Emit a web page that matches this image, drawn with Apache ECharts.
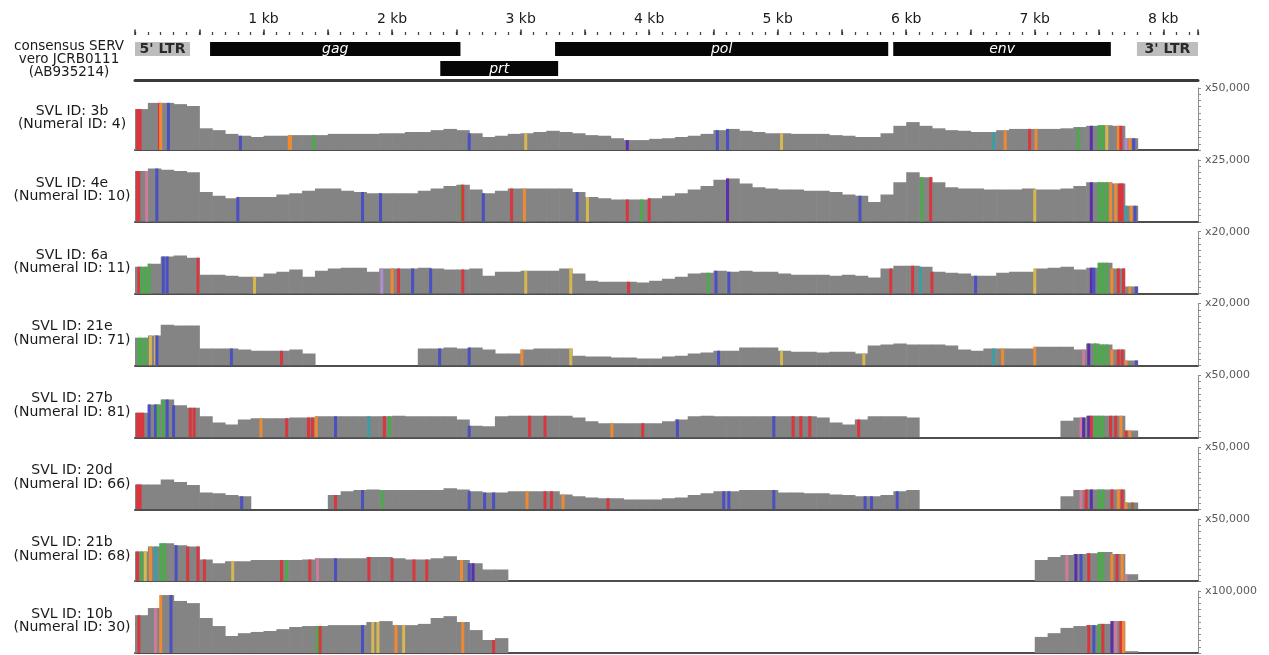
<!DOCTYPE html>
<html>
<head>
<meta charset="utf-8">
<script src="https://cdn.jsdelivr.net/npm/echarts@6/dist/echarts.min.js"></script>
<style>
html,body{margin:0;padding:0;background:#fff;}
#chart{width:1269px;height:655px;}
</style>
</head>
<body>
<div id="chart"></div>
<script>
// ---------------- data ----------------
const genomeLength = 8270;   // bp
const binSize = 100;         // bp per coverage bin

const rulerTicks  = [1000, 2000, 3000, 4000, 5000, 6000, 7000, 8000];
const rulerLabels = ['1 kb', '2 kb', '3 kb', '4 kb', '5 kb', '6 kb', '7 kb', '8 kb'];

const featureNames = ["5' LTR", 'gag', 'prt', 'pol', 'env', "3' LTR"];
const featureStart = [0, 584, 2375, 3268, 5899, 7795];
const featureEnd   = [428, 2532, 3292, 5860, 7592, 8270];
const featureRow   = [0, 0, 1, 0, 0, 0];
const featureKind  = ['ltr', 'gene', 'gene', 'gene', 'gene', 'ltr'];

const refLabel = 'consensus SERV\nvero JCRB0111\n(AB935214)';
const trackLabels = [
  'SVL ID: 3b\n(Numeral ID: 4)',
  'SVL ID: 4e\n(Numeral ID: 10)',
  'SVL ID: 6a\n(Numeral ID: 11)',
  'SVL ID: 21e\n(Numeral ID: 71)',
  'SVL ID: 27b\n(Numeral ID: 81)',
  'SVL ID: 20d\n(Numeral ID: 66)',
  'SVL ID: 21b\n(Numeral ID: 68)',
  'SVL ID: 10b\n(Numeral ID: 30)'
];
// coverage scale maxima, in thousands of reads
const trackMax = [50, 25, 20, 20, 50, 50, 50, 100];
const scaleLabels = ['x50,000', 'x25,000', 'x20,000', 'x20,000', 'x50,000', 'x50,000', 'x50,000', 'x100,000'];

// coverage per 100 bp bin (thousands of reads)
const cov3b = [33,38,38,37,35.5,17.5,16,13,11.5,10.5,
  11.5,11.5,12,12,12,13,13,13,13,13.5,
  13.5,14.5,14.5,16,17,16,13.5,10.5,11.5,13,
  13.5,14.5,15.5,14.5,13.5,12,11.5,9.5,8,8,
  9,9.5,10.5,11.5,13,16,17,15.5,14.5,13.5,
  13.5,13,13,13,12,11.5,10.5,10.5,13.5,19.5,
  22.5,19.5,17.5,16,15.5,14.5,14.5,16,17,17,
  17,17,17.5,18.5,19.5,20,19.5,9.5,0,0,
  0,0,0];
const cov4e = [20.5,21.5,21,20.5,20,12,10.5,9.5,10,10,
  10,11,11.5,12.5,13.5,13.5,12.5,12,11.5,11.5,
  11.5,11.5,12.5,13.5,14.5,15,13,11.5,12.5,13.5,
  13.5,13.5,13.5,13.5,12,10,9.5,9,9,9,
  9.5,10.5,11.5,13,14.5,17,17.5,15.5,14,13.5,
  13,13,12.5,12.5,12,11,10.5,8,11,16,
  20,18,16,14,13.5,13.5,13,13,13,13.5,
  13,13,13.5,14.5,16,16,15.5,6.5,0,0,
  0,0,0];
const cov6a = [8.7,9.7,12,12.3,11.6,6.1,6.1,5.8,5.5,5.5,
  6.5,7.1,7.8,5.5,7.4,8.1,8.4,8.4,7.1,8.1,
  8.1,8.1,8.4,8.1,7.8,7.8,8.1,5.8,7.1,7.1,
  7.4,7.4,7.4,8.1,6.5,4.2,3.9,3.9,3.9,3.6,
  4.2,4.8,5.5,6.5,6.8,7.4,7.1,7.4,7.1,7.1,
  6.5,6.1,6.1,6.1,5.8,6.1,5.8,5.2,8.1,9,
  9,8.7,7.1,6.8,6.5,5.8,5.8,6.8,7.1,7.1,
  8.1,8.4,8.7,7.8,8.4,10,8.1,2.3,0,0,
  0,0,0];
const cov21e = [9,9.7,13.2,12.9,12.9,5.5,5.5,5.5,5.2,4.8,
  4.8,4.8,5.2,3.9,0,0,0,0,0,0,
  0,0,5.5,5.5,5.8,5.5,5.8,5.2,3.9,3.9,
  5.2,5.5,5.5,5.5,3.2,2.9,2.9,2.6,2.6,2.3,
  2.3,2.9,3.2,3.9,4.2,4.8,4.8,5.8,5.8,5.8,
  4.8,4.5,4.5,4.2,4.5,4.5,3.9,6.5,6.8,7.1,
  6.8,6.8,6.8,6.5,5.2,4.8,5.5,5.5,5.5,5.5,
  6.1,6.1,6.1,5.2,7.1,6.8,5.2,1.6,0,0,
  0,0,0];
const cov27b = [20,26.5,30.5,26,24,17,12,10.5,14.5,15.5,
  15.5,15.5,16,16,17,17,17,17,17,17,
  17.5,17,17,17,17,14.5,9.5,9,17,17.5,
  17.5,17.5,17.5,17.5,16,13,11.5,11.5,11.5,11.5,
  11.5,13,14.5,17,17.5,17,17,17,17,17,
  17,17,17,16,12,10.5,14.5,17,17,17,
  16,0,0,0,0,0,0,0,0,0,
  0,0,13.5,16,17.5,17.5,17.5,5.5,0,0,
  0,0,0];
const cov20d = [20,20,24,22,19.5,13.5,13,11.5,10.5,0,
  0,0,0,0,0,11.5,14.5,15.5,16,15.5,
  15.5,15.5,15.5,15.5,17,16,14.5,13.5,13.5,14.5,
  14.5,14.5,14.5,12,10.5,9.5,9,9,8,8,
  8,9,9.5,11.5,13,14.5,14.5,15.5,15.5,15.5,
  13.5,13.5,13,13,12,11.5,10.5,10.5,11.5,14.5,
  15.5,0,0,0,0,0,0,0,0,0,
  0,0,10.5,15.5,16,16,16,5.5,0,0,
  0,0,0];
const cov21b = [24,28,30.5,29,28,17.5,14.5,16,16,17,
  17,17,17,17.5,18.5,18.5,18.5,18.5,19.5,19.5,
  18.5,17.5,17.5,18.5,20,17,14.5,9.5,9.5,0,
  0,0,0,0,0,0,0,0,0,0,
  0,0,0,0,0,0,0,0,0,0,
  0,0,0,0,0,0,0,0,0,0,
  0,0,0,0,0,0,0,0,0,0,
  17,19.5,21,22,22.5,23.5,22,5.5,0,0,
  0,0,0];
const cov10b = [61,72.5,93.5,84,80.5,56.5,43.5,27.5,32,34,
  35.5,38.5,42,43.5,43.5,45,45,45,50,51.5,
  45,45,47,56.5,59.5,50,37,21,24,0,
  0,0,0,0,0,0,0,0,0,0,
  0,0,0,0,0,0,0,0,0,0,
  0,0,0,0,0,0,0,0,0,0,
  0,0,0,0,0,0,0,0,0,0,
  26,32,40.5,43.5,45,47,51.5,3,0,0,
  0,0,0];

// variant positions (bp) with allele colour code
const snp3b = [[20,'r'],[40,'r'],[190,'r'],[200,'o'],[260,'b'],[820,'b'],[1200,'o'],[1210,'o'],[1390,'g'],[2600,'b'],[3040,'y'],[3830,'v'],[4530,'b'],[4610,'b'],[5030,'y'],[6680,'t'],[6770,'o'],[6960,'r'],[7010,'o'],[7340,'g'],[7440,'v'],[7500,'g'],[7530,'g'],[7560,'y'],[7650,'o'],[7670,'r'],[7710,'m'],[7740,'o'],[7770,'b']];
const snp4e = [[20,'r'],[30,'r'],[90,'p'],[170,'b'],[800,'b'],[1770,'b'],[1910,'b'],[2540,'g'],[2550,'r'],[2710,'b'],[2930,'r'],[3030,'o'],[3440,'b'],[3520,'y'],[3830,'r'],[3940,'g'],[4000,'r'],[4610,'v'],[5640,'b'],[6120,'g'],[6190,'r'],[7000,'y'],[7440,'v'],[7500,'g'],[7530,'g'],[7560,'g'],[7590,'o'],[7630,'o'],[7660,'r'],[7680,'r'],[7710,'t'],[7750,'o'],[7780,'b']];
const snp6a = [[30,'r'],[50,'g'],[80,'g'],[110,'g'],[220,'b'],[250,'b'],[490,'r'],[930,'y'],[1920,'m'],[2000,'o'],[2050,'r'],[2160,'b'],[2300,'b'],[2550,'r'],[3040,'y'],[3390,'y'],[3840,'r'],[4460,'g'],[4520,'b'],[4620,'b'],[5880,'r'],[6050,'r'],[6110,'t'],[6200,'r'],[6540,'b'],[7000,'y'],[7440,'v'],[7460,'b'],[7500,'g'],[7530,'g'],[7560,'g'],[7600,'o'],[7650,'r'],[7690,'r'],[7740,'o'],[7790,'b']];
const snp21e = [[30,'g'],[50,'g'],[80,'g'],[120,'y'],[160,'y'],[170,'b'],[750,'b'],[1140,'r'],[2370,'b'],[2600,'b'],[3010,'o'],[3390,'y'],[4540,'b'],[5030,'y'],[5670,'y'],[6680,'t'],[6750,'o'],[7000,'o'],[7380,'p'],[7420,'v'],[7470,'g'],[7500,'g'],[7530,'g'],[7560,'g'],[7600,'o'],[7650,'r'],[7680,'r'],[7710,'o'],[7790,'b']];
const snp27b = [[20,'r'],[40,'r'],[60,'r'],[110,'b'],[160,'b'],[180,'g'],[220,'g'],[250,'b'],[300,'b'],[430,'r'],[460,'r'],[980,'o'],[1180,'r'],[1350,'r'],[1380,'r'],[1410,'o'],[1560,'b'],[1820,'t'],[1940,'r'],[1980,'g'],[2600,'b'],[3070,'r'],[3190,'r'],[3710,'o'],[3950,'r'],[4220,'b'],[4970,'b'],[5120,'r'],[5180,'r'],[5250,'r'],[5630,'r'],[7360,'p'],[7380,'v'],[7420,'v'],[7440,'r'],[7470,'g'],[7500,'g'],[7530,'g'],[7590,'r'],[7630,'r'],[7670,'o'],[7710,'r'],[7740,'o']];
const snp20d = [[20,'r'],[40,'r'],[830,'b'],[1560,'r'],[1770,'b'],[1920,'g'],[2600,'b'],[2720,'b'],[2790,'b'],[3050,'o'],[3190,'r'],[3240,'r'],[3330,'o'],[3680,'r'],[4580,'b'],[4620,'b'],[4970,'b'],[5680,'b'],[5730,'b'],[5930,'b'],[7360,'p'],[7400,'r'],[7440,'v'],[7500,'g'],[7530,'g'],[7600,'r'],[7650,'o'],[7680,'r'],[7710,'o'],[7760,'n']];
const snp21b = [[20,'r'],[50,'g'],[80,'y'],[120,'o'],[160,'t'],[200,'g'],[230,'g'],[320,'b'],[410,'r'],[490,'r'],[540,'r'],[760,'y'],[1140,'r'],[1180,'g'],[1360,'r'],[1420,'p'],[1560,'b'],[1820,'r'],[2000,'r'],[2170,'r'],[2270,'r'],[2540,'o'],[2600,'b'],[2630,'v'],[7250,'p'],[7320,'v'],[7360,'b'],[7420,'r'],[7500,'g'],[7530,'g'],[7600,'o'],[7640,'r'],[7680,'o'],[7710,'p']];
const snp10b = [[30,'r'],[160,'p'],[200,'o'],[280,'b'],[1420,'g'],[1440,'r'],[1770,'b'],[1850,'y'],[1890,'y'],[2030,'o'],[2090,'y'],[2550,'o'],[2790,'r'],[7420,'r'],[7460,'b'],[7500,'g'],[7530,'r'],[7600,'v'],[7630,'p'],[7670,'r'],[7690,'o']];

const snpColors = {r:'#d9363e', b:'#4b4fc4', v:'#5a2fae', g:'#4bab4b', o:'#f08a32', y:'#d5b84e', p:'#d07a9c', t:'#3c9ea3', m:'#b08fd0', n:'#9a6a3a'};

// ---------------- layout ----------------
const FONT = 'DejaVu Sans';
const gridLeft = 135, gridRight = 71;
const trackTop0 = 88, trackStep = 71.86, trackHeight = 62;

const covs = [cov3b, cov4e, cov6a, cov21e, cov27b, cov20d, cov21b, cov10b];
const snps = [snp3b, snp4e, snp6a, snp21e, snp27b, snp20d, snp21b, snp10b];

const grids = [{left: gridLeft, right: gridRight, top: 35, height: 45}];
const xAxes = [
  {gridIndex: 0, type: 'value', position: 'top', min: 0, max: genomeLength, interval: 100,
   axisLine: {show: false, onZero: false}, axisTick: {show: true, length: 3, lineStyle: {color: '#444', width: 1.3}},
   axisLabel: {show: false}, splitLine: {show: false}},
  {gridIndex: 0, type: 'value', position: 'top', min: 0, max: genomeLength, interval: 500,
   axisLine: {show: false, onZero: false}, axisTick: {show: true, length: 5.5, lineStyle: {color: '#333', width: 1.5}},
   axisLabel: {show: true, margin: 9, fontSize: 14, color: '#1a1a1a', fontFamily: FONT,
     formatter: function (v) { const i = rulerTicks.indexOf(v); return i >= 0 ? rulerLabels[i] : ''; }},
   splitLine: {show: false}},
  {gridIndex: 0, type: 'value', position: 'bottom', min: 0, max: genomeLength,
   axisLine: {show: true, onZero: false, lineStyle: {color: '#3a3a3a', width: 3}},
   axisTick: {show: false}, axisLabel: {show: false}, splitLine: {show: false}}
];
const yAxes = [{gridIndex: 0, type: 'value', min: 0, max: 45, inverse: true, show: false}];
const series = [];
const graphics = [{type: 'text', x: 69, y: 59,
  style: {text: refLabel, align: 'center', verticalAlign: 'middle', fontSize: 13.5, lineHeight: 13,
          fontFamily: FONT, fill: '#1a1a1a'}}];

series.push({
  type: 'custom', xAxisIndex: 2, yAxisIndex: 0, silent: true,
  data: featureNames.map(function (n, i) { return [featureStart[i], featureEnd[i], featureRow[i]]; }),
  encode: {x: [0, 1], y: 2},
  renderItem: function (params, api) {
    const i = params.dataIndex;
    const s = api.coord([api.value(0), 0]);
    const e = api.coord([api.value(1), 0]);
    const row = api.value(2);
    const yTop = api.coord([0, row ? 26 : 7])[1];
    const yBot = api.coord([0, row ? 41 : 21])[1];
    const ltr = featureKind[i] === 'ltr';
    return {type: 'group', children: [
      {type: 'rect', shape: {x: s[0], y: yTop, width: e[0] - s[0], height: yBot - yTop},
       style: {fill: ltr ? '#bdbdbd' : '#060606'}},
      {type: 'text', style: {text: featureNames[i], x: (s[0] + e[0]) / 2, y: (yTop + yBot) / 2 + 0.5,
        align: 'center', verticalAlign: 'middle', fill: ltr ? '#2a2a2a' : '#ffffff',
        fontSize: 14, fontFamily: FONT, fontStyle: ltr ? 'normal' : 'italic', fontWeight: ltr ? 'bold' : 'normal'}}
    ]};
  }
});

covs.forEach(function (cov, k) {
  const gTop = trackTop0 + k * trackStep;
  grids.push({left: gridLeft, right: gridRight, top: gTop, height: trackHeight});
  const xi = xAxes.length, yi = yAxes.length;
  xAxes.push({gridIndex: k + 1, type: 'value', position: 'bottom', min: 0, max: genomeLength,
    axisLine: {show: true, onZero: false, lineStyle: {color: '#4d4d4d', width: 2}},
    axisTick: {show: false}, axisLabel: {show: false}, splitLine: {show: false}});
  const mx = trackMax[k];
  yAxes.push({gridIndex: k + 1, type: 'value', position: 'right', min: 0, max: mx, interval: mx / 10,
    axisLine: {show: true, onZero: false, lineStyle: {color: '#8c8c8c', width: 1}},
    axisTick: {show: true, length: 3, lineStyle: {color: '#8c8c8c', width: 1}},
    axisLabel: {show: true, margin: 7, fontSize: 11, color: '#5a5a5a', fontFamily: FONT,
      formatter: function (v) { return Math.abs(v - mx) < 1e-6 ? scaleLabels[k] : ''; }},
    splitLine: {show: false}});
  graphics.push({type: 'text', x: 72, y: gTop + 30,
    style: {text: trackLabels[k], align: 'center', verticalAlign: 'middle', fontSize: 14, lineHeight: 13.5,
            fontFamily: FONT, fill: '#1a1a1a'}});

  series.push({
    type: 'custom', xAxisIndex: xi, yAxisIndex: yi, silent: true, clip: true,
    data: cov.map(function (v, i) { return [i * binSize, (i + 1) * binSize, v]; })
             .filter(function (d) { return d[2] > 0; }),
    encode: {x: [0, 1], y: 2},
    renderItem: function (params, api) {
      const p0 = api.coord([api.value(0), api.value(2)]);
      const p1 = api.coord([api.value(1), 0]);
      return {type: 'rect', shape: {x: p0[0], y: p0[1], width: p1[0] - p0[0] + 0.6, height: p1[1] - p0[1]},
              style: {fill: '#848484'}};
    }
  });
  const snp = snps[k];
  series.push({
    type: 'custom', xAxisIndex: xi, yAxisIndex: yi, silent: true, clip: true,
    data: snp.map(function (s) { return [s[0], cov[Math.floor(s[0] / binSize)]]; }),
    encode: {x: 0, y: 1},
    renderItem: function (params, api) {
      const p = api.coord([api.value(0), api.value(1)]);
      const b = api.coord([api.value(0), 0]);
      return {type: 'rect', shape: {x: p[0] - 1.5, y: p[1], width: 3, height: b[1] - p[1]},
              style: {fill: snpColors[snp[params.dataIndex][1]]}};
    }
  });
});

const chart = echarts.init(document.getElementById('chart'));
chart.setOption({
  animation: false,
  backgroundColor: '#ffffff',
  grid: grids,
  xAxis: xAxes,
  yAxis: yAxes,
  series: series,
  graphic: graphics
});
</script>
</body>
</html>
